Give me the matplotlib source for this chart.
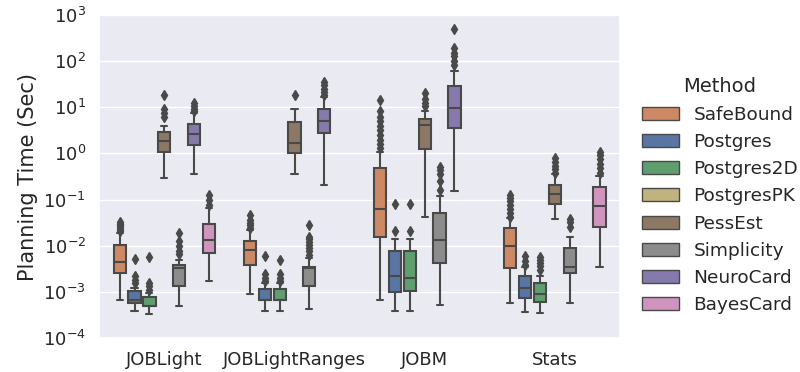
import matplotlib
matplotlib.use("Agg")
import matplotlib.pyplot as plt
from matplotlib.patches import Patch
from matplotlib.ticker import NullLocator, FixedLocator
import seaborn as sns

benchmarks = ["JOBLight", "JOBLightRanges", "JOBM", "Stats"]
methods = ["SafeBound", "Postgres", "Postgres2D", "PostgresPK",
           "PessEst", "Simplicity", "NeuroCard", "BayesCard"]
# methods that were actually run (PostgresPK only appears in the legend)
plotted_methods = ["SafeBound", "Postgres", "Postgres2D",
                   "PessEst", "Simplicity", "NeuroCard", "BayesCard"]
y_ticks = [1e-4, 1e-3, 1e-2, 1e-1, 1e0, 1e1, 1e2, 1e3]

# Planning time summaries (seconds), one entry per benchmark; None = not run
q1 = {
    "SafeBound":  [0.0026, 0.0039, 0.0158, 0.0033],
    "Postgres":   [0.00059, 0.00066, 0.00102, 0.00074],
    "Postgres2D": [0.00050, 0.00066, 0.00105, 0.00062],
    "PessEst":    [1.07, 1.02, 1.26, 0.081],
    "Simplicity": [0.00132, 0.00132, 0.0042, 0.0026],
    "NeuroCard":  [1.55, 2.75, 3.6, None],
    "BayesCard":  [0.0069, None, None, 0.026],
}
median = {
    "SafeBound":  [0.0044, 0.0081, 0.063, 0.010],
    "Postgres":   [0.00066, 0.00066, 0.0022, 0.0012],
    "Postgres2D": [0.00050, 0.00066, 0.0020, 0.00091],
    "PessEst":    [1.82, 1.66, 4.17, 0.132],
    "Simplicity": [0.0033, 0.0033, 0.0132, 0.0034],
    "NeuroCard":  [2.63, 5.1, 9.8, None],
    "BayesCard":  [0.0135, None, None, 0.074],
}
q3 = {
    "SafeBound":  [0.0102, 0.0129, 0.48, 0.024],
    "Postgres":   [0.00107, 0.00117, 0.0078, 0.0022],
    "Postgres2D": [0.00079, 0.00117, 0.0078, 0.00155],
    "PessEst":    [2.95, 4.68, 5.5, 0.209],
    "Simplicity": [0.0039, 0.0035, 0.052, 0.0089],
    "NeuroCard":  [4.27, 9.3, 28.8, None],
    "BayesCard":  [0.030, None, None, 0.19],
}
whisker_low = {
    "SafeBound":  [0.00068, 0.00091, 0.00068, 0.00059],
    "Postgres":   [0.00038, 0.00038, 0.00038, 0.00036],
    "Postgres2D": [0.00033, 0.00038, 0.00038, 0.00035],
    "PessEst":    [0.295, 0.35, 0.042, 0.038],
    "Simplicity": [0.00050, 0.00043, 0.00052, 0.00059],
    "NeuroCard":  [0.36, 0.204, 0.155, None],
    "BayesCard":  [0.0017, None, None, 0.0035],
}
whisker_high = {
    "SafeBound":  [0.0186, 0.0224, 1.1, 0.040],
    "Postgres":   [0.0012, 0.00155, 0.0141, 0.0034],
    "Postgres2D": [0.00095, 0.00155, 0.0141, 0.0022],
    "PessEst":    [3.98, 9.1, 8.1, 0.35],
    "Simplicity": [0.0050, 0.0054, 0.12, 0.0158],
    "NeuroCard":  [7.4, 17.0, 61.7, None],
    "BayesCard":  [0.066, None, None, 0.33],
}
outliers = {
    "SafeBound":  [[0.0204, 0.0229, 0.0251, 0.0275, 0.0302, 0.0331],
                   [0.024, 0.0275, 0.0316, 0.0363, 0.0457],
                   [1.29, 1.6, 2.0, 2.5, 3.2, 4.0, 5.0, 6.3, 8.1, 14.5],
                   [0.043, 0.052, 0.063, 0.076, 0.091, 0.11, 0.126]],
    "Postgres":   [[0.00155, 0.0018, 0.0022, 0.0052],
                   [0.0017, 0.0020, 0.0024, 0.0060],
                   [0.0204, 0.081],
                   [0.0039, 0.0048, 0.0059]],
    "Postgres2D": [[0.00112, 0.00132, 0.00158, 0.0058],
                   [0.0017, 0.0020, 0.0024, 0.0050],
                   [0.0204, 0.081],
                   [0.0030, 0.0036, 0.0043, 0.0050, 0.0058]],
    "PessEst":    [[6.2, 7.4, 9.1, 18.6],
                   [18.6],
                   [10.5, 12.6, 15.1, 20.4],
                   [0.37, 0.45, 0.54, 0.66, 0.79]],
    "Simplicity": [[0.0065, 0.0079, 0.010, 0.0126, 0.0186],
                   [0.0063, 0.0076, 0.0089, 0.0105, 0.012, 0.0138, 0.0158, 0.028],
                   [0.162, 0.25, 0.35, 0.44, 0.52],
                   [0.026, 0.032, 0.038]],
    "NeuroCard":  [[8.1, 9.3, 10.7, 12.6],
                   [18.6, 21.4, 25.1, 30.2, 36.0],
                   [83.0, 100.0, 126.0, 151.0, 190.0, 490.0],
                   []],
    "BayesCard":  [[0.078, 0.10, 0.126],
                   [], [],
                   [0.37, 0.48, 0.60, 0.76, 0.91, 1.10]],
}

base_colors = {
    "SafeBound": "#DD8452", "Postgres": "#4C72B0", "Postgres2D": "#55A868",
    "PostgresPK": "#CCB974", "PessEst": "#937860", "Simplicity": "#8C8C8C",
    "NeuroCard": "#8172B3", "BayesCard": "#DA8BC3",
}

sns.set_theme(style="darkgrid", font_scale=1.2)
plt.rcParams["font.family"] = ["DejaVu Sans"]

fig = plt.figure(figsize=(8.0, 3.72), dpi=100)
ax = fig.add_axes([0.124, 0.091, 0.651, 0.869])

line_gray = "#494949"
group_width = 0.8
slot = group_width / len(plotted_methods)
box_w = slot * 0.82

for hi, m in enumerate(plotted_methods):
    face = sns.desaturate(base_colors[m], 0.75)
    offset = -group_width / 2 + slot * (hi + 0.5)
    for bi in range(len(benchmarks)):
        if median[m][bi] is None:
            continue
        stats = [{
            "med": median[m][bi], "q1": q1[m][bi], "q3": q3[m][bi],
            "whislo": whisker_low[m][bi], "whishi": whisker_high[m][bi],
            "fliers": outliers[m][bi],
        }]
        ax.bxp(stats, positions=[bi + offset], widths=box_w,
               patch_artist=True, manage_ticks=False,
               boxprops=dict(facecolor=face, edgecolor=line_gray, linewidth=1.5),
               medianprops=dict(color=line_gray, linewidth=1.5),
               whiskerprops=dict(color=line_gray, linewidth=1.5),
               capprops=dict(color=line_gray, linewidth=1.5),
               flierprops=dict(marker="d", markersize=5, markerfacecolor=line_gray,
                               markeredgecolor=line_gray, linestyle="none"))

ax.set_yscale("log")
ax.set_ylim(y_ticks[0], y_ticks[-1])
ax.yaxis.set_major_locator(FixedLocator(y_ticks))
ax.yaxis.set_minor_locator(NullLocator())
ax.set_xlim(-0.5, len(benchmarks) - 0.5)
ax.set_xticks(range(len(benchmarks)))
ax.set_xticklabels(benchmarks)
ax.xaxis.grid(False)
ax.yaxis.grid(True, which="major")
ax.tick_params(axis="both", labelsize=13)
ax.set_ylabel("Planning Time (Sec)", fontsize=15)

handles = [Patch(facecolor=sns.desaturate(base_colors[m], 0.75),
                 edgecolor=line_gray, linewidth=1.0, label=m) for m in methods]
ax.legend(handles=handles, title="Method", loc="center left",
          bbox_to_anchor=(1.01, 0.44), frameon=False, fontsize=13.3,
          title_fontsize=14)

fig.savefig("out.png", dpi=100)
